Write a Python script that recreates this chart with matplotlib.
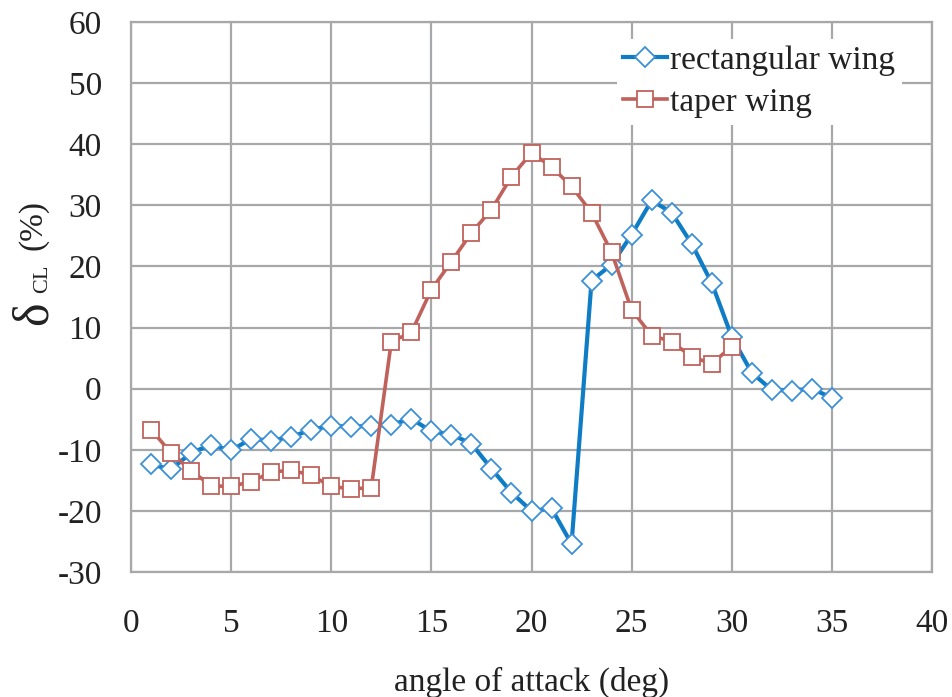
import numpy as np
from matplotlib import pyplot as plt

plt.rcParams['font.family'] = ['Liberation Serif', 'DejaVu Serif']
plt.rcParams['axes.unicode_minus'] = False

# angle of attack (deg)
aoa_rect = [1, 2, 3, 4, 5, 6, 7, 8, 9, 10, 11, 12, 13, 14, 15, 16, 17, 18,
            19, 20, 21, 22, 23, 24, 25, 26, 27, 28, 29, 30, 31, 32, 33, 34, 35]
d_rect = [-12.4, -13.2, -10.5, -9.2, -10.1, -8.2, -8.5, -7.9, -6.7, -6.1, -6.2,
          -6.1, -5.9, -4.9, -7.0, -7.5, -9.0, -13.1, -17.0, -20.0, -19.6, -25.4,
          17.7, 20.3, 25.2, 30.8, 28.8, 23.7, 17.3, 8.5, 2.6, -0.2, -0.3, 0.0, -1.5]

aoa_taper = [1, 2, 3, 4, 5, 6, 7, 8, 9, 10, 11, 12, 13, 14, 15, 16, 17, 18,
             19, 20, 21, 22, 23, 24, 25, 26, 27, 28, 29, 30]
d_taper = [-6.7, -10.5, -13.4, -15.9, -16.0, -15.2, -13.7, -13.3, -14.2, -16.0,
           -16.4, -16.2, 7.7, 9.2, 16.2, 20.8, 25.5, 29.3, 34.7, 38.6, 36.3, 33.1,
           28.8, 22.3, 12.9, 8.7, 7.7, 5.2, 4.1, 6.9]

W, H = 953, 697
fig = plt.figure(figsize=(W / 100, H / 100), dpi=100)
ax = fig.add_axes([131 / W, 1 - 572 / H, (932 - 131) / W, (572 - 22) / H])

ax.plot(aoa_rect, d_rect, color='#0f7dc6', lw=3.0, marker='D', ms=10,
        mfc='white', mec='#3d8fd6', mew=1.3, label='rectangular wing', zorder=3)
ax.plot(aoa_taper, d_taper, color='#c0625c', lw=2.6, marker='s', ms=12,
        mfc='white', mec='#c0625c', mew=1.3, label='taper wing', zorder=3)

ax.set_xlim(0, 40)
ax.set_ylim(-30, 60)
ax.set_xticks(np.arange(0, 41, 5))
ax.set_yticks(np.arange(-30, 61, 10))
ax.grid(True, color='#a6a8aa', lw=1.6)
ax.set_axisbelow(True)
for s in ax.spines.values():
    s.set_color('#a6a8aa')
    s.set_linewidth(1.6)
ax.tick_params(axis='both', length=0, labelsize=24, colors='#222222')
ax.tick_params(axis='x', pad=26)
ax.tick_params(axis='y', pad=21)

ax.set_xlabel('angle of attack (deg)', fontsize=24, color='#222222', labelpad=20)

# y label pieces: delta, subscript CL, (%)
fig.text(47 / W, 1 - 325 / H, 'δ', fontsize=36, rotation=90,
         rotation_mode='anchor', ha='left', va='baseline', color='#222222')
fig.text(47 / W, 1 - 293 / H, 'CL', fontsize=16, rotation=90,
         rotation_mode='anchor', ha='left', va='baseline', color='#222222')
fig.text(41 / W, 1 - 250 / H, '(%)', fontsize=24, rotation=90,
         rotation_mode='anchor', ha='left', va='baseline', color='#222222')

leg = ax.legend(loc='upper right', bbox_to_anchor=(0.983, 1.0), fontsize=24,
                frameon=True, fancybox=False, handlelength=1.3, handletextpad=0.1,
                labelspacing=0.35, borderpad=0.2, labelcolor='#222222')
leg.get_frame().set_edgecolor('none')
leg.get_frame().set_facecolor('white')
leg.get_frame().set_alpha(1)

fig.savefig('out.png', dpi=100)
